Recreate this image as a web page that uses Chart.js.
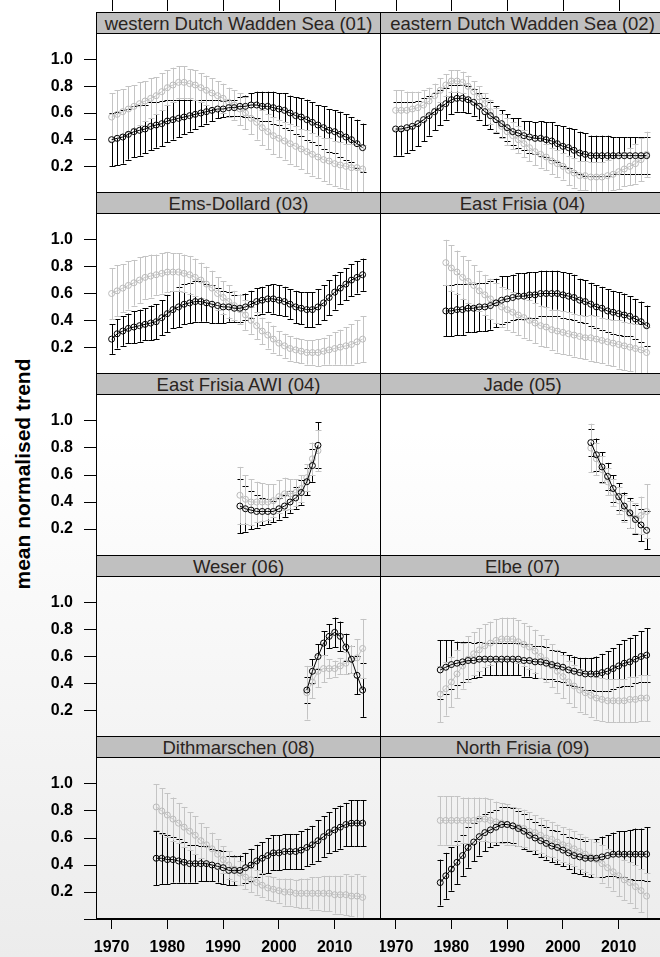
<!DOCTYPE html>
<html>
<head>
<meta charset="utf-8">
<script src="https://cdn.jsdelivr.net/npm/chart.js@4.4.1/dist/chart.umd.min.js"></script>
<style>
html, body { margin: 0; padding: 0; }
body {
    width: 660px; height: 957px; overflow: hidden; position: relative;
    background: linear-gradient(#ffffff 0%, #ffffff 45%, #ececec 100%);
    font-family: "Liberation Sans", Arial, sans-serif;
}
.box { position: absolute; }
.strip {
    position: absolute; box-sizing: border-box; height: 22px;
    background: #c0c0c0; border: 1px solid #000;
    font-size: 18.5px; line-height: 20px; padding-top: 1px;
    text-align: center; color: #2a2420; white-space: nowrap; overflow: hidden;
}
#ylab {
    position: absolute; left: 23px; top: 474px;
    transform: translate(-50%, -50%) rotate(-90deg);
    font-size: 21px; font-weight: bold; white-space: nowrap; color: #000;
}
</style>
</head>
<body>
<div id="ylab">mean normalised trend</div>
<script>
"use strict";

// ---- data -------------------------------------------------------------
const panelNames = [
    "western Dutch Wadden Sea (01)", "eastern Dutch Wadden Sea (02)",
    "Ems-Dollard (03)", "East Frisia (04)",
    "East Frisia AWI (04)", "Jade (05)",
    "Weser (06)", "Elbe (07)",
    "Dithmarschen (08)", "North Frisia (09)"
];
const startYears = [1970, 1970, 1970, 1979, 1993, 2005, 2005, 1978, 1978, 1978];
const xTicks = [1970, 1980, 1990, 2000, 2010];
const yTicks = [0, 0.2, 0.4, 0.6, 0.8, 1.0];

// 01 western Dutch Wadden Sea
const blackMean01 = [.40,.41,.42,.44,.46,.47,.48,.50,.51,.52, .54,.55,.56,.57,.58,.59,.60,.61,.62,.63, .63,.64,.64,.65,.65,.66,.66,.65,.65,.64, .63,.62,.60,.58,.57,.55,.53,.51,.49,.47, .46,.44,.42,.40,.37,.34];
const blackErr01  = [.20,.20,.20,.19,.19,.19,.18,.18,.17,.17, .16,.15,.14,.13,.12,.11,.10,.09,.08,.07, .06,.06,.06,.07,.08,.09,.10,.11,.11,.12, .12,.13,.13,.14,.14,.15,.15,.15,.16,.16, .16,.17,.17,.17,.18,.18];
const greyMean01  = [.57,.59,.61,.63,.65,.67,.69,.71,.73,.76, .79,.81,.83,.83,.82,.81,.79,.77,.75,.73, .71,.68,.66,.63,.60,.56,.53,.49,.46,.43, .41,.39,.37,.35,.33,.31,.29,.27,.25,.24, .22,.21,.20,.19,.19,.18];
const greyErr01   = [.18,.18,.17,.17,.16,.16,.15,.15,.14,.14, .13,.13,.12,.12,.11,.11,.11,.11,.11,.11, .11,.11,.11,.12,.12,.12,.13,.13,.13,.14, .14,.14,.15,.15,.15,.16,.16,.16,.16,.17, .17,.17,.17,.18,.18,.18];

// 02 eastern Dutch Wadden Sea
const blackMean02 = [.48,.48,.49,.50,.52,.55,.58,.61,.64,.67, .70,.71,.71,.70,.68,.65,.61,.58,.55,.52, .49,.46,.45,.43,.42,.41,.41,.40,.39,.37, .35,.34,.32,.30,.29,.28,.28,.28,.28,.28, .28,.28,.28,.28,.28,.28];
const blackErr02  = [.20,.20,.19,.18,.17,.16,.15,.14,.13,.12, .11,.10,.10,.10,.10,.10,.10,.10,.10,.10, .10,.10,.11,.11,.12,.12,.13,.13,.14,.14, .15,.15,.16,.16,.16,.15,.15,.15,.15,.14, .14,.14,.14,.14,.14,.14];
const greyMean02  = [.62,.62,.62,.63,.64,.66,.69,.73,.77,.81, .84,.84,.83,.80,.76,.72,.67,.61,.55,.50, .46,.43,.40,.37,.34,.31,.29,.27,.24,.22, .20,.17,.15,.13,.13,.12,.12,.12,.13,.14, .16,.18,.20,.22,.25,.29];
const greyErr02   = [.15,.15,.14,.13,.12,.11,.10,.09,.09,.08, .08,.08,.08,.08,.08,.08,.08,.09,.09,.09, .10,.10,.10,.10,.10,.10,.10,.10,.10,.10, .10,.11,.11,.11,.11,.11,.11,.11,.12,.12, .13,.13,.14,.15,.16,.17];

// 03 Ems-Dollard
const blackMean03 = [.26,.30,.32,.34,.35,.36,.37,.38,.39,.42, .45,.48,.50,.52,.53,.54,.54,.53,.52,.51, .50,.50,.49,.49,.50,.52,.54,.55,.56,.56, .55,.54,.52,.50,.49,.48,.48,.50,.53,.57, .61,.64,.67,.70,.72,.74];
const blackErr03  = [.11,.11,.11,.11,.12,.12,.12,.13,.13,.13, .14,.14,.15,.15,.15,.15,.15,.14,.14,.13, .12,.11,.10,.10,.10,.10,.10,.10,.10,.11, .11,.11,.11,.12,.12,.13,.13,.13,.13,.13, .13,.12,.12,.12,.12,.12];
const greyMean03  = [.60,.62,.64,.66,.68,.70,.72,.73,.74,.75, .76,.76,.76,.75,.74,.72,.70,.67,.64,.60, .57,.54,.51,.48,.44,.40,.36,.32,.29,.26, .23,.21,.19,.18,.17,.16,.16,.16,.17,.18, .19,.20,.21,.22,.24,.26];
const greyErr03   = [.19,.19,.18,.18,.17,.17,.16,.16,.15,.15, .15,.14,.14,.14,.14,.14,.13,.13,.13,.12, .12,.12,.11,.11,.11,.10,.10,.10,.10,.10, .09,.09,.09,.09,.09,.09,.09,.10,.10,.11, .12,.13,.14,.15,.16,.17];

// 04 East Frisia
const blackMean04 = [.47,.47,.48,.48,.49,.49,.50,.50,.51,.53, .55,.56,.57,.58,.58,.59,.59,.60,.60,.60, .60,.59,.58,.57,.55,.54,.52,.50,.49,.47, .46,.45,.44,.43,.41,.39,.36];
const blackErr04  = [.19,.19,.19,.19,.18,.18,.18,.18,.18,.18, .18,.17,.17,.17,.17,.17,.17,.17,.17,.17, .17,.17,.17,.17,.16,.16,.16,.16,.16,.16, .16,.16,.16,.15,.15,.15,.15];
const greyMean04  = [.83,.79,.76,.72,.69,.66,.62,.59,.56,.53, .50,.48,.46,.44,.42,.40,.38,.36,.35,.33, .32,.31,.30,.29,.28,.27,.27,.26,.25,.24, .23,.22,.21,.20,.19,.18,.16];
const greyErr04   = [.17,.17,.16,.16,.16,.15,.15,.15,.15,.15, .15,.15,.15,.15,.15,.15,.15,.15,.15,.15, .16,.16,.16,.16,.16,.16,.17,.17,.17,.17, .17,.18,.18,.18,.18,.19,.19];

// 04 East Frisia AWI
const blackMean05 = [.37,.35,.34,.33,.33,.33,.33,.35,.37,.40,.43,.47,.55,.67,.82];
const blackErr05  = [.20,.17,.14,.12,.10,.09,.08,.08,.08,.08,.08,.09,.10,.12,.17];
const greyMean05  = [.45,.42,.40,.40,.40,.40,.41,.44,.46,.46,.47,.50,.58,.72,.78];
const greyErr05   = [.21,.18,.17,.15,.14,.13,.12,.12,.12,.11,.10,.10,.10,.12,.15];

// 05 Jade
const blackMean06 = [.84,.75,.66,.59,.50,.44,.37,.32,.27,.23,.19];
const blackErr06  = [.10,.12,.11,.10,.10,.10,.10,.11,.11,.12,.14];
const greyMean06  = [.80,.72,.64,.55,.47,.41,.35,.31,.28,.30,.33];
const greyErr06   = [.18,.12,.10,.10,.10,.10,.10,.10,.11,.14,.20];

// 06 Weser
const blackMean07 = [.35,.49,.60,.70,.75,.78,.75,.67,.58,.46,.35];
const blackErr07  = [.10,.09,.09,.09,.09,.11,.11,.10,.10,.14,.20];
const greyMean07  = [.33,.41,.49,.51,.51,.51,.53,.55,.58,.59,.66];
const greyErr07   = [.20,.12,.12,.10,.07,.06,.06,.08,.10,.14,.22];

// 07 Elbe
const blackMean08 = [.50,.52,.54,.55,.56,.57,.57,.58,.58,.58, .58,.58,.58,.58,.58,.57,.57,.56,.56,.55, .54,.53,.52,.50,.49,.48,.47,.47,.47,.48, .49,.51,.53,.55,.56,.58,.60,.61];
const blackErr08  = [.22,.20,.18,.16,.15,.14,.13,.13,.12,.12, .12,.12,.12,.12,.12,.12,.12,.12,.12,.12, .11,.11,.11,.11,.11,.11,.12,.12,.13,.14, .15,.15,.16,.17,.18,.18,.19,.20];
const greyMean08  = [.32,.36,.41,.47,.53,.58,.62,.65,.68,.70, .72,.73,.73,.73,.71,.69,.67,.64,.60,.57, .53,.49,.45,.41,.38,.35,.33,.31,.29,.28, .27,.27,.27,.27,.28,.28,.29,.29];
const greyErr08   = [.21,.20,.19,.18,.17,.17,.16,.16,.16,.16, .16,.16,.16,.16,.16,.16,.16,.16,.16,.16, .16,.16,.16,.16,.16,.16,.16,.16,.16,.16, .16,.16,.16,.16,.17,.17,.17,.17];

// 08 Dithmarschen
const blackMean09 = [.45,.45,.44,.44,.43,.42,.41,.41,.41,.41, .40,.39,.38,.36,.36,.36,.38,.40,.43,.45, .47,.49,.49,.50,.50,.50,.51,.53,.55,.58, .61,.64,.66,.68,.70,.71,.71,.71];
const blackErr09  = [.20,.19,.18,.17,.16,.15,.14,.14,.13,.13, .12,.12,.12,.11,.11,.11,.11,.12,.12,.12, .13,.13,.13,.13,.13,.13,.14,.14,.14,.15, .15,.15,.16,.16,.16,.17,.17,.17];
const greyMean09  = [.83,.80,.77,.74,.71,.68,.65,.62,.58,.55, .52,.48,.44,.40,.37,.34,.31,.29,.27,.25, .23,.22,.21,.20,.20,.19,.19,.19,.19,.19, .19,.19,.18,.18,.18,.17,.17,.16];
const greyErr09   = [.17,.17,.16,.16,.15,.15,.14,.14,.13,.13, .12,.11,.10,.10,.09,.09,.09,.09,.09,.09, .09,.09,.09,.10,.10,.10,.11,.11,.12,.12, .13,.13,.14,.14,.15,.15,.16,.16];

// 09 North Frisia
const blackMean10 = [.27,.32,.37,.42,.47,.53,.57,.61,.64,.66, .68,.70,.70,.69,.67,.65,.62,.60,.58,.56, .54,.53,.51,.49,.47,.46,.45,.45,.45,.46, .47,.48,.48,.48,.48,.48,.48,.48];
const blackErr10  = [.17,.17,.16,.16,.15,.15,.14,.14,.14,.13, .13,.13,.13,.13,.13,.13,.12,.12,.12,.12, .12,.12,.12,.12,.13,.13,.13,.14,.14,.15, .15,.16,.17,.17,.18,.19,.19,.20];
const greyMean10  = [.73,.73,.73,.73,.73,.73,.73,.74,.74,.73, .72,.71,.70,.69,.68,.67,.65,.64,.62,.60, .59,.57,.55,.54,.52,.50,.48,.46,.44,.41, .38,.35,.32,.29,.27,.24,.21,.17];
const greyErr10   = [.18,.18,.18,.18,.17,.17,.17,.16,.16,.16, .15,.15,.15,.14,.14,.14,.14,.13,.13,.13, .13,.13,.13,.13,.13,.13,.13,.13,.13,.14, .14,.14,.15,.15,.15,.16,.16,.17];

const blackMeans = [blackMean01, blackMean02, blackMean03, blackMean04, blackMean05, blackMean06, blackMean07, blackMean08, blackMean09, blackMean10];
const blackErrs  = [blackErr01, blackErr02, blackErr03, blackErr04, blackErr05, blackErr06, blackErr07, blackErr08, blackErr09, blackErr10];
const greyMeans  = [greyMean01, greyMean02, greyMean03, greyMean04, greyMean05, greyMean06, greyMean07, greyMean08, greyMean09, greyMean10];
const greyErrs   = [greyErr01, greyErr02, greyErr03, greyErr04, greyErr05, greyErr06, greyErr07, greyErr08, greyErr09, greyErr10];

// ---- layout -----------------------------------------------------------
const BLACK = "#000000";
const GREY = "#c4c4c4";
const TICK_FONT = { family: "'Liberation Sans Narrow', 'Arial Narrow', sans-serif", weight: "bold", size: 16 };

const columns = [
    { left: 0, width: 381, axisW: 96 },
    { left: 380, width: 285, axisW: 0 }
];
const stripTops = [12, 192, 373, 555, 736];
const STRIP_H = 22;
const panelBottoms = [193, 374, 556, 737, 919];
const X_AXIS_H = 38;

// error bars, drawn below all point series
const errorBars = {
    id: "errorBars",
    beforeDatasetsDraw(chart) {
        const ctx = chart.ctx;
        const xs = chart.scales.x;
        const ys = chart.scales.y;
        const a = chart.chartArea;
        ctx.save();
        ctx.beginPath();
        ctx.rect(a.left, a.top, a.right - a.left, a.bottom - a.top);
        ctx.clip();
        chart.data.datasets.forEach(ds => {
            ctx.strokeStyle = ds.borderColor;
            ctx.lineWidth = 1;
            ds.data.forEach((p, i) => {
                const e = ds.err[i];
                const x = Math.round(xs.getPixelForValue(p.x)) + 0.5;
                const y1 = ys.getPixelForValue(p.y - e);
                const y2 = ys.getPixelForValue(p.y + e);
                ctx.beginPath();
                ctx.moveTo(x, y1); ctx.lineTo(x, y2);
                ctx.moveTo(x - 3, Math.round(y1) + 0.5); ctx.lineTo(x + 3, Math.round(y1) + 0.5);
                ctx.moveTo(x - 3, Math.round(y2) + 0.5); ctx.lineTo(x + 3, Math.round(y2) + 0.5);
                ctx.stroke();
            });
        });
        ctx.restore();
    }
};

// panel frame and the unlabelled top ticks of the first row
const panelFrame = {
    id: "panelFrame",
    afterDraw(chart, args, opts) {
        const ctx = chart.ctx;
        const a = chart.chartArea;
        ctx.save();
        ctx.strokeStyle = BLACK;
        ctx.lineWidth = 1;
        ctx.strokeRect(a.left + 0.5, a.top + 0.5, a.right - a.left - 1, a.bottom - a.top - 1);
        if (opts.topTicks) {
            ctx.beginPath();
            xTicks.forEach(v => {
                const x = Math.round(chart.scales.x.getPixelForValue(v)) + 0.5;
                ctx.moveTo(x, 0); ctx.lineTo(x, 11);
            });
            ctx.stroke();
        }
        ctx.restore();
    }
};

function buildPanel(k) {
    const row = Math.floor(k / 2);
    const col = columns[k % 2];
    const panelTop = stripTops[row] + STRIP_H - 1;
    const top = row === 0 ? 0 : panelTop;
    const bottom = panelBottoms[row] + (row === 4 ? X_AXIS_H : 0);

    const box = document.createElement("div");
    box.className = "box";
    box.style.left = col.left + "px";
    box.style.top = top + "px";
    box.style.width = col.width + "px";
    box.style.height = (bottom - top) + "px";
    const canvas = document.createElement("canvas");
    box.appendChild(canvas);
    document.body.appendChild(box);

    const strip = document.createElement("div");
    strip.className = "strip";
    strip.style.left = (col.left + col.axisW) + "px";
    strip.style.top = stripTops[row] + "px";
    strip.style.width = (col.width - col.axisW) + "px";
    strip.textContent = panelNames[k];
    document.body.appendChild(strip);

    const years = blackMeans[k].map((_, i) => startYears[k] + i);

    new Chart(canvas, {
        type: "line",
        data: {
            datasets: [
                {
                    label: "black",
                    data: years.map((yr, i) => ({ x: yr, y: blackMeans[k][i] })),
                    err: blackErrs[k],
                    borderColor: BLACK,
                    pointBorderColor: BLACK,
                    order: 0
                },
                {
                    label: "grey",
                    data: years.map((yr, i) => ({ x: yr, y: greyMeans[k][i] })),
                    err: greyErrs[k],
                    borderColor: GREY,
                    pointBorderColor: "#bababa",
                    order: 1
                }
            ]
        },
        options: {
            responsive: true,
            maintainAspectRatio: false,
            animation: false,
            devicePixelRatio: 1,
            layout: {
                autoPadding: false,
                padding: { top: row === 0 ? panelTop : 0, left: 0, right: 0, bottom: 0 }
            },
            elements: {
                line: { borderWidth: 1, tension: 0 },
                point: { radius: 3, borderWidth: 1, backgroundColor: "rgba(0,0,0,0)", hoverRadius: 3 }
            },
            plugins: {
                legend: { display: false },
                tooltip: { enabled: false },
                panelFrame: { topTicks: row === 0 }
            },
            scales: {
                x: {
                    type: "linear",
                    min: 1967.2,
                    max: 2018.3,
                    display: row === 4,
                    afterBuildTicks: s => { s.ticks = xTicks.map(v => ({ value: v })); },
                    afterFit: s => {
                        s.height = row === 4 ? X_AXIS_H : 0;
                        s.paddingLeft = 0; s.paddingRight = 0;
                        s.paddingTop = 0; s.paddingBottom = 0;
                    },
                    ticks: {
                        callback: v => String(v),
                        font: TICK_FONT,
                        color: BLACK,
                        padding: 9,
                        maxRotation: 0,
                        autoSkip: false
                    },
                    grid: { drawOnChartArea: false, tickLength: 10, color: BLACK },
                    border: { color: BLACK }
                },
                y: {
                    type: "linear",
                    min: 0,
                    max: 1.2,
                    display: col.axisW > 0,
                    afterBuildTicks: s => { s.ticks = yTicks.map(v => ({ value: v })); },
                    afterFit: s => {
                        s.width = col.axisW;
                        s.paddingLeft = 0; s.paddingRight = 0;
                        s.paddingTop = 0; s.paddingBottom = 0;
                    },
                    ticks: {
                        callback: v => (Math.abs(v) < 1e-9 ? "" : v.toFixed(1)),
                        font: TICK_FONT,
                        color: BLACK,
                        padding: 11,
                        autoSkip: false
                    },
                    grid: { drawOnChartArea: false, tickLength: 12, color: BLACK },
                    border: { color: BLACK }
                }
            }
        },
        plugins: [errorBars, panelFrame]
    });
}

for (let k = 0; k < panelNames.length; k++) {
    buildPanel(k);
}
</script>
</body>
</html>
